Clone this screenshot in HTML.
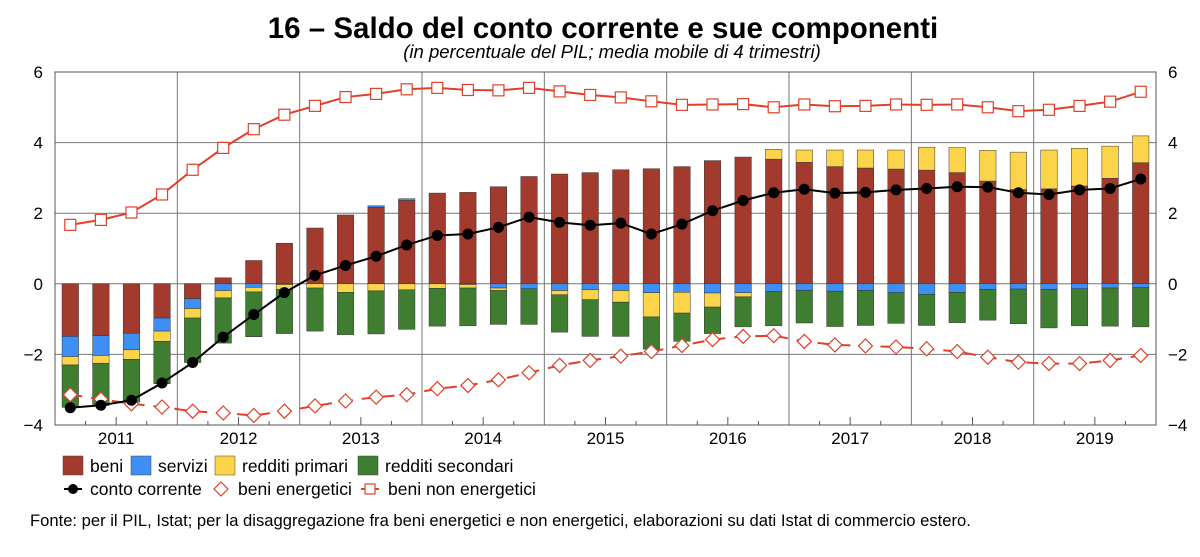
<!DOCTYPE html>
<html><head><meta charset="utf-8"><style>
body{margin:0;background:#fff;width:1200px;height:557px;overflow:hidden;font-family:"Liberation Sans",Arial,sans-serif}
svg{display:block}
</style></head><body>
<svg id="chart" width="1200" height="557" xmlns="http://www.w3.org/2000/svg" font-family="Liberation Sans, Arial, sans-serif">
<text x="603" y="38" text-anchor="middle" font-size="29.5" font-weight="bold">16 – Saldo del conto corrente e sue componenti</text>
<text x="612" y="58" text-anchor="middle" font-size="18.5" font-style="italic">(in percentuale del PIL; media mobile di 4 trimestri)</text>
<g id="grid"></g><g id="bars"></g><g id="lines"></g><g id="axes"></g>
<g font-size="17.5">
<rect x="63" y="456" width="20" height="19" fill="#a33a2e" stroke="#444" stroke-width="0.5"/>
<text x="90" y="472">beni</text>
<rect x="131" y="456" width="20" height="19" fill="#3d8ef5" stroke="#444" stroke-width="0.5"/>
<text x="158" y="472">servizi</text>
<rect x="215" y="456" width="20" height="19" fill="#fcd44a" stroke="#444" stroke-width="0.5"/>
<text x="242" y="472">redditi primari</text>
<rect x="358" y="456" width="20" height="19" fill="#3f7e30" stroke="#444" stroke-width="0.5"/>
<text x="385" y="472">redditi secondari</text>
<line x1="64" y1="489" x2="82" y2="489" stroke="#000" stroke-width="2"/>
<circle cx="73" cy="489" r="5" fill="#000"/>
<text x="90" y="495">conto corrente</text>
<path d="M221 482 L228 489 L221 496 L214 489 Z" fill="#fff" stroke="#e0402a" stroke-width="1.2"/>
<text x="238" y="495">beni energetici</text>
<line x1="361" y1="489" x2="379" y2="489" stroke="#e0402a" stroke-width="2"/>
<rect x="365" y="484" width="10" height="10" fill="#fff" stroke="#e0402a" stroke-width="1.2"/>
<text x="388" y="495">beni non energetici</text>
</g>
<text x="30" y="526" font-size="16.6">Fonte: per il PIL, Istat; per la disaggregazione fra beni energetici e non energetici, elaborazioni su dati Istat di commercio estero.</text>
</svg>
<script>
const years=["2011","2012","2013","2014","2015","2016","2017","2018","2019"];
const yTicks=[-4,-2,0,2,4,6];
const beni=[-1.49,-1.47,-1.40,-0.97,-0.42,0.17,0.66,1.15,1.58,1.95,2.17,2.36,2.57,2.59,2.75,3.04,3.11,3.15,3.23,3.26,3.32,3.49,3.59,3.53,3.44,3.32,3.28,3.25,3.22,3.15,2.91,2.67,2.69,2.77,2.99,3.43];
const servizi=[-0.57,-0.56,-0.47,-0.37,-0.28,-0.19,-0.10,-0.02,0,0,0.04,0.05,0,-0.02,-0.12,-0.14,-0.19,-0.17,-0.19,-0.25,-0.24,-0.26,-0.25,-0.22,-0.19,-0.21,-0.19,-0.25,-0.30,-0.24,-0.16,-0.15,-0.16,-0.14,-0.12,-0.11];
const primari=[-0.24,-0.22,-0.27,-0.29,-0.27,-0.21,-0.13,-0.14,-0.12,-0.24,-0.20,-0.17,-0.13,-0.10,-0.07,0,-0.12,-0.28,-0.33,-0.69,-0.59,-0.40,-0.12,0.28,0.35,0.47,0.51,0.54,0.65,0.71,0.87,1.06,1.10,1.07,0.91,0.76];
const secondari=[-1.20,-1.20,-1.21,-1.20,-1.26,-1.28,-1.27,-1.25,-1.22,-1.20,-1.22,-1.12,-1.07,-1.07,-0.96,-1.01,-1.06,-1.04,-0.97,-0.91,-0.80,-0.75,-0.85,-0.97,-0.92,-1.00,-0.99,-0.87,-0.88,-0.86,-0.87,-0.98,-1.09,-1.05,-1.08,-1.11];
const conto=[-3.51,-3.44,-3.30,-2.81,-2.23,-1.51,-0.87,-0.25,0.24,0.52,0.78,1.10,1.37,1.41,1.60,1.89,1.74,1.66,1.72,1.41,1.69,2.07,2.36,2.58,2.68,2.57,2.59,2.66,2.70,2.75,2.74,2.58,2.53,2.66,2.70,2.97];
const energetici=[-3.14,-3.27,-3.40,-3.49,-3.61,-3.66,-3.73,-3.61,-3.46,-3.32,-3.21,-3.14,-2.97,-2.88,-2.72,-2.52,-2.31,-2.17,-2.05,-1.92,-1.75,-1.58,-1.49,-1.47,-1.63,-1.73,-1.76,-1.79,-1.84,-1.92,-2.08,-2.22,-2.26,-2.26,-2.17,-2.03];
const nonEnergetici=[1.67,1.81,2.02,2.53,3.23,3.85,4.38,4.79,5.04,5.29,5.38,5.51,5.55,5.49,5.48,5.55,5.45,5.35,5.28,5.17,5.07,5.08,5.09,5.00,5.08,5.03,5.04,5.08,5.07,5.08,5.00,4.89,4.93,5.04,5.16,5.44];

const NS="http://www.w3.org/2000/svg";
const L=55,R=1156,T=72,B=425,yMin=-4,yMax=6;
const nQ=beni.length, qw=(R-L)/nQ;
const X=i=>L+qw*(i+0.5);
const Y=v=>B-(v-yMin)/(yMax-yMin)*(B-T);
function mk(tag,attrs,parent){const e=document.createElementNS(NS,tag);for(const k in attrs)e.setAttribute(k,attrs[k]);parent.appendChild(e);return e;}
const grid=document.getElementById('grid'),bars=document.getElementById('bars'),lines=document.getElementById('lines'),axes=document.getElementById('axes');
yTicks.forEach(t=>{
  const g=mk('line',{x1:L,x2:R,y1:Y(t),y2:Y(t),stroke:'#777','stroke-width':1},grid);
  
  
  const a=mk('text',{x:L-12,y:Y(t)+6,'text-anchor':'end','font-size':17},axes);a.textContent=t<0?'−'+(-t):t;
  
  
  const b=mk('text',{x:R+12,y:Y(t)+6,'text-anchor':'start','font-size':17},axes);b.textContent=t<0?'−'+(-t):t;
  
  
});
years.forEach((yr,k)=>{
  const x0=L+k*4*qw;
  if(k>0){const v=mk('line',{x1:x0,x2:x0,y1:T,y2:B,stroke:'#777','stroke-width':1},grid);
    
    }
  for(let q=1;q<4;q++){const tk=mk('line',{x1:x0+q*qw,x2:x0+q*qw,y1:B-(q==2?8:4),y2:B,stroke:'#555','stroke-width':1},axes);
    
    }
  const t=mk('text',{x:x0+2*qw,y:B+19,'text-anchor':'middle','font-size':17},axes);t.textContent=yr;
  
  
});
const frame=mk('rect',{x:L,y:T,width:R-L,height:B-T,fill:'none',stroke:'#555','stroke-width':1},axes);


const series=[[beni,'#a33a2e','bar-beni'],[servizi,'#3d8ef5','bar-servizi'],[primari,'#fcd44a','bar-redditi-primari'],[secondari,'#3f7e30','bar-redditi-secondari']];
const bw=16.5;
for(let i=0;i<nQ;i++){
  let pos=0,neg=0;
  series.forEach(([arr,col,name])=>{
    const v=arr[i]; if(!v)return;
    let y0,y1;
    if(v>0){y0=pos;y1=pos+v;pos=y1;}else{y0=neg;y1=neg+v;neg=y1;}
    const r=mk('rect',{x:X(i)-bw/2,y:Math.min(Y(y0),Y(y1)),width:bw,height:Math.abs(Y(y0)-Y(y1)),fill:col,stroke:'#333','stroke-width':0.5},bars);
    
    
  });
}
function line(arr,col,dash,name){
  const p=mk('polyline',{points:arr.map((v,i)=>X(i)+','+Y(v)).join(' '),fill:'none',stroke:col,'stroke-width':2,'stroke-dasharray':dash||'none'},lines);
  
  
}
line(nonEnergetici,'#e0402a',null,'line-beni-non-energetici');
line(energetici,'#e0402a','12 9','line-beni-energetici');
line(conto,'#000',null,'line-conto-corrente');
nonEnergetici.forEach((v,i)=>{const m=mk('rect',{x:X(i)-5.5,y:Y(v)-5.5,width:11,height:11,fill:'#fff',stroke:'#e0402a','stroke-width':1.2},lines);
  
  });
energetici.forEach((v,i)=>{const x=X(i),y=Y(v);const m=mk('path',{d:`M${x} ${y-7}L${x+7} ${y}L${x} ${y+7}L${x-7} ${y}Z`,fill:'#fff',stroke:'#e0402a','stroke-width':1.2},lines);
  
  });
conto.forEach((v,i)=>{const m=mk('circle',{cx:X(i),cy:Y(v),r:5.5,fill:'#000'},lines);
  
  });
</script>
</body></html>
